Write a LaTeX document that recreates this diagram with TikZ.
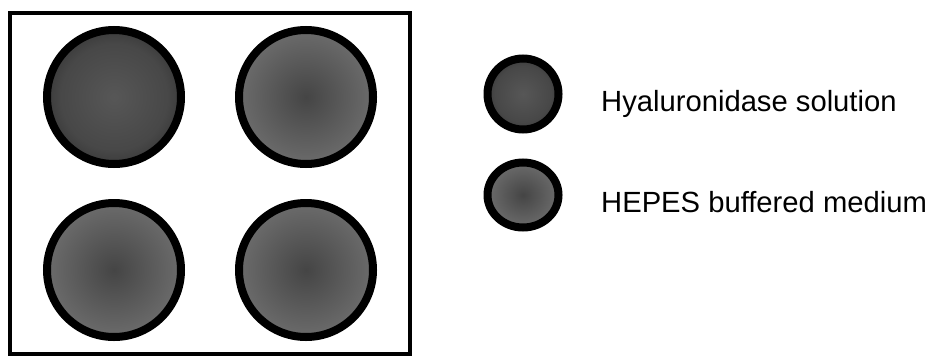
\documentclass[tikz,border=0pt]{standalone}
\usepackage{fontspec}
\setmainfont{Liberation Sans}
\usetikzlibrary{shapes.geometric}
\pgfdeclareradialshading{lightcenter}{\pgfpoint{0bp}{0bp}}{color(0bp)=(black!66); color(20bp)=(black!72); color(35bp)=(black!86); color(50bp)=(black!86)}
\pgfdeclareradialshading{darkcenter}{\pgfpoint{0bp}{0bp}}{color(0bp)=(black!73); color(35bp)=(black!52); color(50bp)=(black!52)}
\tikzset{
  well/.style={circle, draw=black, line width=8pt, inner sep=0pt, minimum size=134pt},
  lgd/.style={ellipse, draw=black, line width=8pt, inner sep=0pt},
  lbl/.style={anchor=base west, inner sep=0pt, font=\fontsize{29.2pt}{34pt}\selectfont}
}
\begin{document}
\begin{tikzpicture}[x=1pt,y=-1pt]
\useasboundingbox (0,0) rectangle (933,356);
\node[draw=black, line width=4pt, minimum width=400pt, minimum height=341pt, inner sep=0pt] (plate) at (210,183.5) {};
\node[well, shading=lightcenter] (w1) at (114,97) {};
\node[well, shading=darkcenter] (w2) at (306,97) {};
\node[well, shading=darkcenter] (w3) at (114,270) {};
\node[well, shading=darkcenter] (w4) at (306,270) {};
\node[lgd, shading=lightcenter, minimum width=71pt, minimum height=71pt] (l1) at (523,94) {};
\node[lgd, shading=darkcenter, minimum width=71pt, minimum height=65pt] (l2) at (523,195) {};
\node[lbl] (t1) at (601,111) {Hyaluronidase solution};
\node[lbl] (t2) at (601,212) {HEPES buffered medium};
\end{tikzpicture}
\end{document}
